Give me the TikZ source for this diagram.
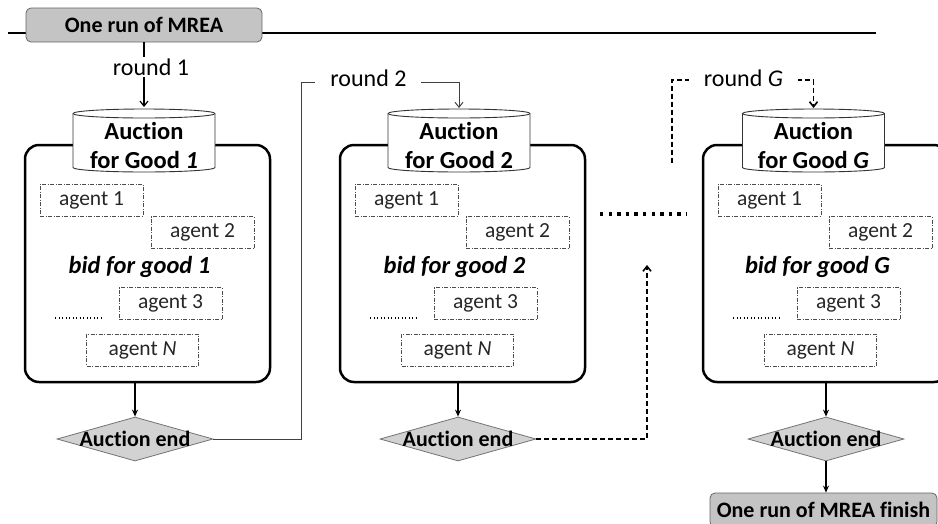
\documentclass[tikz,border=0pt]{standalone}
\usepackage{fontspec}
\setmainfont{Carlito}[Ligatures={NoCommon}]
\usetikzlibrary{arrows.meta,shapes.geometric,calc}
\definecolor{boxgray}{RGB}{196,196,196}
\definecolor{diagray}{RGB}{210,210,210}
\definecolor{inkgray}{RGB}{38,38,38}
\begin{document}
\begin{tikzpicture}[x=1pt,y=1pt,
  tbox/.style={draw=black!60, fill=boxgray, rounded corners=5pt, line width=0.8pt,
    font=\bfseries\fontsize{22}{26}\selectfont, minimum height=34, inner sep=0},
  bigbox/.style={draw=black, line width=2.5pt, rounded corners=14pt,
    minimum width=245, minimum height=237, inner sep=0},
  agent/.style={draw=black!70, dash pattern=on 4pt off 1.5pt on 1pt off 1.5pt,
    line width=0.8pt, minimum width=103, minimum height=32, inner sep=0,
    text=inkgray, font=\fontsize{21.5}{24}\selectfont},
  cyl/.style={draw=black!80, fill=white, line width=0.9pt},
  cyltext/.style={align=center, inner sep=0, font=\bfseries\fontsize{24.5}{29}\selectfont},
  bidtext/.style={anchor=base, inner sep=0, font=\bfseries\itshape\fontsize{24.5}{28}\selectfont},
  decide/.style={diamond, aspect=3.5, draw=black!55, fill=diagray, line width=0.8pt,
    minimum width=156, minimum height=44, inner sep=0},
  endlbl/.style={inner sep=0, font=\bfseries\fontsize{22}{26}\selectfont},
  roundlbl/.style={fill=white, inner xsep=15pt, inner ysep=2pt, font=\fontsize{24}{28}\selectfont},
  arr/.style={-{Stealth[length=7pt,width=6pt]}, line width=1.2pt},
  barb/.style={-{Straight Barb[length=5pt,width=8pt]}},
  dline/.style={line width=1.6pt, dash pattern=on 5pt off 3pt},
  smalldots/.style={line width=1.3pt, dash pattern=on 1.3pt off 2.2pt},
  bigdots/.style={line width=3.3pt, dash pattern=on 3.3pt off 5.3pt}
]
\useasboundingbox (0,0) rectangle (938,-523);
\clip (0,0) rectangle (938,-523);

% time line of one run
\coordinate (tl) at (8,-33);
\coordinate (tr) at (876,-33);
\draw[line width=2.8pt] (tl) -- (tr);
\node[tbox, minimum width=236] (start) at (144,-25) {One run of MREA};

% one auction stage per good
\foreach \i/\dx/\cx/\ex/\g/\b in {1/0/144/135/{\textit{1}}/1, 2/315/459/458/2/2, G/678/813.5/826/{\textit{G}}/G} {
  \node[bigbox] (b\i) at (147.5+\dx,-263.5) {};
  \draw[cyl] (\cx-71,-113.5) -- (\cx-71,-167.5)
    arc[start angle=180, end angle=360, x radius=71, y radius=4.5]
    -- (\cx+71,-113.5)
    arc[start angle=0, end angle=180, x radius=71, y radius=4.5] -- cycle;
  \draw[cyl, fill=none] (\cx-71,-113.5)
    arc[start angle=180, end angle=360, x radius=71, y radius=4.5];
  \coordinate (c\i) at (\cx,-109);
  \node[cyltext] (t\i) at (\cx,-145) {Auction\\for Good \g};
  \node[agent] (a\i-1) at (91.5+\dx,-200) {agent 1};
  \node[agent] (a\i-2) at (202.5+\dx,-232.5) {agent 2};
  \node[bidtext] (bid\i) at (139.5+\dx,-273) {bid for good \b};
  \node[agent] (a\i-3) at (170.5+\dx,-303.5) {agent 3};
  \node[agent, minimum width=112] (a\i-n) at (142.5+\dx,-350) {agent \textit{N}};
  \coordinate (dl\i) at (55+\dx,-318);
  \coordinate (dr\i) at (103+\dx,-318);
  \draw[smalldots] (dl\i) -- (dr\i);
  \node[decide, label={[endlbl]center:Auction end}] (d\i) at (\ex,-439) {};
  \draw[arr] (d\i.north |- b\i.south) -- (d\i.north);
}

% round 1
\draw[barb, line width=1.2pt, shorten >=2pt] (start.south -| c1) --
  node[roundlbl, pos=0.37, xshift=7] (r1) {round 1} (c1);

% round 2
\coordinate (k2) at (301,-82);
\draw[barb, line width=1pt, draw=black!75, shorten >=1pt] (d1.east) -| (k2) --
  node[roundlbl, pos=0.427, yshift=3.5] (r2) {round 2} (c2 |- k2) -- (c2);

% round G
\coordinate (gfree) at (672,-163);
\coordinate (kG) at (672,-80);
\draw[dline, barb, shorten >=1pt] (gfree) -- (kG) --
  node[roundlbl, pos=0.505, yshift=2] (rG) {round \textit{G}} (cG |- kG) -- (cG);

% rounds in between
\coordinate (mid1) at (600,-214);
\coordinate (mid2) at (687,-214);
\draw[bigdots] (mid1) -- (mid2);
\coordinate (up) at (647,-265);
\draw[dline, barb] (d2.east) -| (up);

% end of the run
\node[tbox, minimum width=227] (finish) at (823.5,-510) {One run of MREA finish};
\draw[arr] (dG.south) -- (dG.south |- finish.north);
\end{tikzpicture}
\end{document}
